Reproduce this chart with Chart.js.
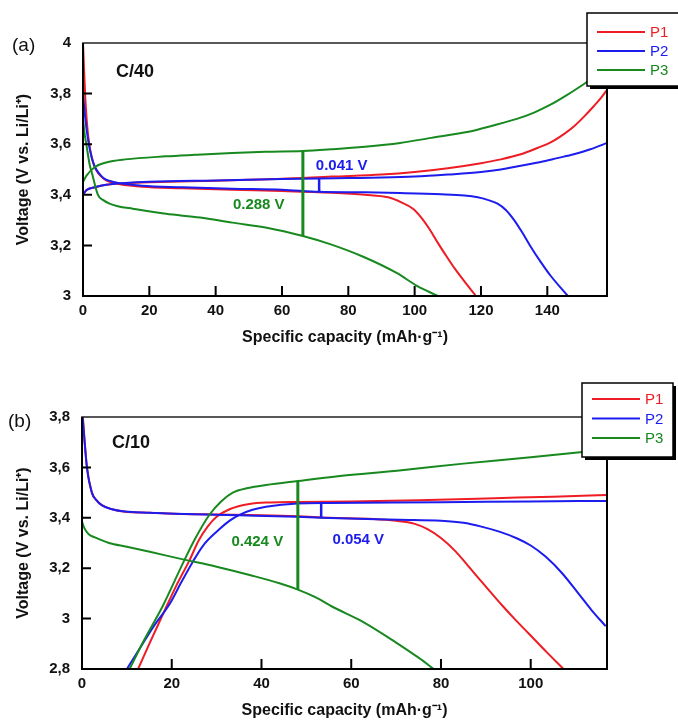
<!DOCTYPE html>
<html>
<head>
<meta charset="utf-8">
<script src="https://cdn.jsdelivr.net/npm/chart.js@4.4.0/dist/chart.umd.min.js"></script>
<style>
  html, body { margin: 0; padding: 0; background: #fff; }
  #wrapA { position: absolute; left: 0; top: 0; }
  #wrapB { position: absolute; left: 0; top: 355px; }
</style>
</head>
<body>
<div id="wrapA"><canvas id="chartA" width="678" height="355"></canvas></div>
<div id="wrapB"><canvas id="chartB" width="678" height="365"></canvas></div>
<script>
'use strict';

// series names (legend) and colours
const seriesNames = ['P1', 'P2', 'P3'];
const seriesColors = ['#ee1c24', '#1c1cee', '#17891f'];

// tick labels
const capTicksA = [0, 20, 40, 60, 80, 100, 120, 140];
const voltTicksA = [3, 3.2, 3.4, 3.6, 3.8, 4];
const capTicksB = [0, 20, 40, 60, 80, 100];
const voltTicksB = [2.8, 3, 3.2, 3.4, 3.6, 3.8];

// (a) C/40 : [capacity mAh/g, voltage V]
const a_P1_charge = [[0,3.40],[1,3.418],[3.6,3.43],[7,3.44],[12.7,3.446],[20,3.45],[40,3.456],[60,3.463],[75,3.472],[90,3.48],[100,3.49],[110,3.505],[120,3.525],[126,3.54],[132,3.56],[137,3.585],[141,3.607],[145,3.64],[148,3.67],[151,3.708],[154,3.75],[156,3.78],[158,3.815]];
const a_P1_discharge = [[0,4.0],[0.3,3.9],[0.7,3.78],[1.5,3.64],[3,3.53],[5.7,3.47],[9.6,3.446],[17.8,3.432],[30,3.426],[45,3.42],[60,3.415],[75,3.408],[85,3.4],[92,3.39],[96,3.37],[99.5,3.345],[102,3.31],[104.6,3.262],[107,3.21],[109.7,3.155],[112,3.11],[114.6,3.065],[118.5,3.0]];
const a_P2_charge = [[0,3.40],[1,3.418],[3.6,3.43],[7,3.44],[12.7,3.447],[20,3.452],[40,3.457],[60,3.462],[71.2,3.464],[80,3.466],[90,3.468],[100,3.472],[110,3.48],[120,3.49],[126,3.50],[132,3.515],[138,3.53],[143,3.545],[148,3.56],[153,3.58],[158,3.605]];
const a_P2_discharge = [[0,3.80],[0.7,3.70],[1.5,3.62],[3,3.53],[5.7,3.472],[9.6,3.45],[17.8,3.436],[30,3.43],[45,3.424],[60,3.42],[71.2,3.412],[85,3.41],[95.6,3.407],[108,3.402],[115,3.397],[119,3.39],[122,3.38],[125,3.365],[127.5,3.34],[130,3.30],[132.5,3.25],[135,3.195],[138,3.135],[141,3.08],[146.2,3.0]];
const a_P3_charge = [[0,3.45],[1,3.475],[3.6,3.51],[7,3.528],[12.7,3.54],[25,3.552],[33.8,3.558],[45,3.565],[55,3.57],[66.3,3.573],[75,3.58],[85,3.59],[95.6,3.605],[105,3.625],[115.8,3.648],[124,3.675],[130.8,3.70],[136,3.725],[140.8,3.755],[146,3.795],[151.3,3.84],[158,3.9]];
const a_P3_discharge = [[0,3.70],[0.5,3.64],[1,3.60],[2,3.52],[2.7,3.486],[4.5,3.40],[6,3.38],[8,3.365],[10.5,3.355],[15,3.345],[25,3.325],[35.3,3.31],[45,3.29],[55.4,3.27],[66.3,3.237],[74.5,3.205],[84.5,3.155],[94.7,3.09],[100.7,3.04],[107,3.0]];
// polarisation markers (a)
const a_gapP3 = [[66.3,3.573],[66.3,3.237]];
const a_gapP2 = [[71.2,3.463],[71.2,3.412]];

// (b) C/10
const b_P1_charge = [[12.5,2.8],[15,2.9],[18.8,3.047],[21,3.13],[24,3.233],[26,3.31],[28,3.365],[30,3.404],[33,3.435],[37.3,3.455],[42,3.461],[48,3.463],[60,3.465],[75,3.47],[92,3.478],[105,3.484],[117,3.49]];
const b_P1_discharge = [[0,3.85],[0.4,3.75],[1.1,3.6],[2.2,3.5],[3.2,3.47],[4.4,3.45],[6.5,3.435],[9.6,3.424],[15,3.42],[20.7,3.416],[30,3.413],[40,3.41],[48,3.406],[55,3.40],[65,3.395],[70,3.388],[74,3.377],[77,3.355],[80,3.32],[83.3,3.266],[86,3.21],[88.4,3.16],[91,3.106],[93.6,3.053],[96.5,2.997],[99.6,2.94],[103.5,2.868],[107.3,2.80]];
const b_P2_charge = [[10,2.8],[13,2.885],[16,2.97],[19.6,3.06],[22,3.14],[24.7,3.226],[27,3.29],[30,3.345],[33,3.39],[35.1,3.412],[38,3.432],[41,3.444],[48,3.457],[55,3.459],[80,3.462],[100,3.465],[117,3.467]];
const b_P2_discharge = [[0,3.83],[0.4,3.74],[1.1,3.6],[2.2,3.5],[3.2,3.47],[4.4,3.45],[6.5,3.435],[9.6,3.425],[15,3.42],[20.7,3.416],[35,3.41],[48,3.404],[53.3,3.40],[70.7,3.392],[80,3.388],[85,3.38],[89,3.365],[93,3.345],[97,3.318],[100,3.29],[103.3,3.246],[107,3.18],[110.7,3.098],[113.5,3.035],[116.7,2.97]];
const b_P3_charge = [[10.6,2.8],[14,2.92],[18,3.05],[22.5,3.22],[25,3.31],[28.4,3.412],[31,3.465],[33.6,3.50],[37,3.518],[41,3.53],[48.1,3.546],[57,3.565],[70.7,3.588],[85,3.615],[100,3.64],[111,3.66],[117,3.672]];
const b_P3_discharge = [[0,3.385],[0.5,3.36],[1.5,3.335],[2.9,3.322],[6,3.3],[10,3.285],[15.1,3.265],[22.5,3.235],[30,3.206],[38,3.17],[44,3.14],[48.1,3.115],[52,3.085],[55.8,3.047],[62.5,2.988],[70,2.905],[75,2.845],[78.4,2.80]];
// polarisation markers (b)
const b_gapP3 = [[48.1,3.546],[48.1,3.115]];
const b_gapP2 = [[53.3,3.459],[53.3,3.40]];

const FONT = '"Liberation Sans", Arial, sans-serif';

function fmtComma(v) {
    return String(Math.round(v * 10) / 10).replace('.', ',');
}

function curve(data, i, order) {
    return {
        data: data,
        borderColor: seriesColors[i],
        borderWidth: 2,
        pointRadius: 0,
        fill: false,
        cubicInterpolationMode: 'monotone',
        order: order
    };
}

function marker(data, i, w) {
    return {
        data: data,
        borderColor: seriesColors[i],
        borderWidth: w,
        pointRadius: 0,
        fill: false,
        tension: 0,
        order: 0
    };
}

// frame, inward tick marks, annotations, boxed legend
const decorPlugin = {
    id: 'decor',
    afterDatasetsDraw(chart, args, o) {
        const { ctx, chartArea: a } = chart;
        const xs = chart.scales.x, ys = chart.scales.y;
        ctx.save();

        ctx.strokeStyle = '#222';
        ctx.lineWidth = 1.5;
        ctx.strokeRect(a.left, a.top, a.right - a.left, a.bottom - a.top);
        ctx.strokeStyle = '#000';
        ctx.lineWidth = 2;
        ctx.beginPath();
        ctx.moveTo(a.left, a.top);
        ctx.lineTo(a.left, a.bottom);
        ctx.lineTo(a.right, a.bottom);
        ctx.lineTo(a.right, a.top);
        ctx.stroke();

        ctx.beginPath();
        xs.ticks.forEach(t => {
            if (t.value <= xs.min || t.value >= xs.max) return;
            const px = xs.getPixelForValue(t.value);
            ctx.moveTo(px, a.bottom);
            ctx.lineTo(px, a.bottom - 10);
        });
        ys.ticks.forEach(t => {
            if (t.value <= ys.min || t.value >= ys.max) return;
            const py = ys.getPixelForValue(t.value);
            ctx.moveTo(a.left, py);
            ctx.lineTo(a.left + 9, py);
        });
        ctx.stroke();

        ctx.textBaseline = 'middle';
        ctx.textAlign = 'left';
        o.notes.forEach(n => {
            ctx.font = n.font;
            ctx.fillStyle = n.color;
            ctx.fillText(n.text, xs.getPixelForValue(n.at[0]), ys.getPixelForValue(n.at[1]));
        });

        ctx.font = '19px ' + FONT;
        ctx.fillStyle = '#111';
        ctx.fillText(o.tag, o.tagPos[0], o.tagPos[1]);

        const L = o.legend;
        ctx.fillStyle = '#000';
        ctx.fillRect(L.x + 3, L.y + 3, L.w, L.h);
        ctx.fillStyle = '#fff';
        ctx.fillRect(L.x, L.y, L.w, L.h);
        ctx.lineWidth = 1.5;
        ctx.strokeStyle = '#000';
        ctx.strokeRect(L.x, L.y, L.w, L.h);
        seriesNames.forEach((name, i) => {
            const yy = L.y + L.row0 + i * L.gap;
            ctx.strokeStyle = seriesColors[i];
            ctx.lineWidth = 2;
            ctx.beginPath();
            ctx.moveTo(L.x + 10, yy);
            ctx.lineTo(L.x + 58, yy);
            ctx.stroke();
            ctx.fillStyle = seriesColors[i];
            ctx.font = '15px ' + FONT;
            ctx.fillText(name, L.x + 63, yy + 1);
        });
        ctx.restore();
    }
};

function makeChart(id, p) {
    const tickFont = { family: FONT, size: 15, weight: 'bold' };
    const titleFont = { family: FONT, size: 16, weight: 'bold' };
    return new Chart(document.getElementById(id), {
        type: 'line',
        data: { datasets: p.datasets },
        options: {
            responsive: false,
            animation: false,
            layout: { padding: { top: p.top, right: 71, bottom: 0, left: 0 } },
            plugins: {
                legend: { display: false },
                tooltip: { enabled: false },
                decor: p.decor
            },
            scales: {
                x: {
                    type: 'linear',
                    min: 0,
                    max: p.xMax,
                    afterBuildTicks: s => { s.ticks = p.xTicks.map(v => ({ value: v })); },
                    afterFit: s => { s.height = p.xHeight; },
                    grid: { display: false, drawTicks: false },
                    border: { display: false },
                    ticks: { font: tickFont, color: '#111', padding: 6, maxRotation: 0, callback: v => fmtComma(v) },
                    title: { display: true, text: 'Specific capacity (mAh·g⁻¹)', font: titleFont, color: '#111', padding: { top: 0, bottom: p.titlePad } }
                },
                y: {
                    type: 'linear',
                    min: p.yMin,
                    max: p.yMax,
                    afterBuildTicks: s => { s.ticks = p.yTicks.map(v => ({ value: v })); },
                    afterFit: s => { s.width = p.yWidth; },
                    grid: { display: false, drawTicks: false },
                    border: { display: false },
                    ticks: { font: tickFont, color: '#111', padding: 12, callback: v => fmtComma(v) },
                    title: { display: true, text: 'Voltage (V vs. Li/Li⁺)', font: titleFont, color: '#111', padding: { top: 14, bottom: 0 } }
                }
            }
        },
        plugins: [decorPlugin]
    });
}

const noteBold = s => 'bold ' + s + 'px ' + FONT;

makeChart('chartA', {
    top: 43, xMax: 158, yMin: 3, yMax: 4, xTicks: capTicksA, yTicks: voltTicksA,
    xHeight: 59, yWidth: 83, titlePad: 7.4,
    datasets: [
        curve(a_P1_charge, 0, 3), curve(a_P1_discharge, 0, 3),
        curve(a_P2_charge, 1, 2), curve(a_P2_discharge, 1, 2),
        curve(a_P3_charge, 2, 1), curve(a_P3_discharge, 2, 1),
        marker(a_gapP3, 2, 3), marker(a_gapP2, 1, 2.5)
    ],
    decor: {
        tag: '(a)', tagPos: [12, 46],
        notes: [
            { text: 'C/40', at: [9.95, 3.885], font: noteBold(18), color: '#111' },
            { text: '0.041 V', at: [70.2, 3.514], font: noteBold(15), color: seriesColors[1] },
            { text: '0.288 V', at: [45.2, 3.36], font: noteBold(15), color: seriesColors[2] }
        ],
        legend: { x: 587, y: 13, w: 95, h: 73, row0: 19, gap: 19 }
    }
});

makeChart('chartB', {
    top: 62, xMax: 117, yMin: 2.8, yMax: 3.8, xTicks: capTicksB, yTicks: voltTicksB,
    xHeight: 51, yWidth: 82, titlePad: 0,
    datasets: [
        curve(b_P1_charge, 0, 3), curve(b_P1_discharge, 0, 3),
        curve(b_P2_charge, 1, 2), curve(b_P2_discharge, 1, 2),
        curve(b_P3_charge, 2, 1), curve(b_P3_discharge, 2, 1),
        marker(b_gapP3, 2, 3), marker(b_gapP2, 1, 2.5)
    ],
    decor: {
        tag: '(b)', tagPos: [8, 67],
        notes: [
            { text: 'C/10', at: [6.7, 3.697], font: noteBold(18), color: '#111' },
            { text: '0.424 V', at: [33.3, 3.305], font: noteBold(15), color: seriesColors[2] },
            { text: '0.054 V', at: [55.8, 3.313], font: noteBold(15), color: seriesColors[1] }
        ],
        legend: { x: 582, y: 28, w: 91, h: 74, row0: 16, gap: 19.5 }
    }
});
</script>
</body>
</html>
